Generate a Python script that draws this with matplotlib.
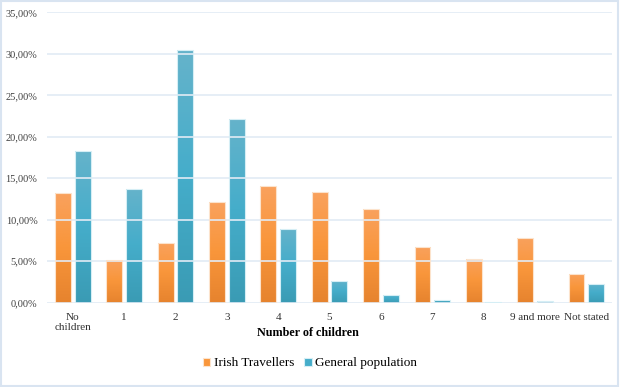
import matplotlib.pyplot as plt
import numpy as np
from matplotlib.colors import LinearSegmentedColormap
from matplotlib.ticker import FuncFormatter

categories = ["No\nchildren", "1", "2", "3", "4", "5", "6", "7", "8", "9 and more", "Not stated"]
travellers = [13.2, 5.15, 7.15, 12.15, 14.1, 13.4, 11.3, 6.7, 5.3, 7.75, 3.4]
general = [18.25, 13.7, 30.5, 22.2, 8.9, 2.6, 0.9, 0.35, 0.1, 0.2, 2.25]

plt.rcParams["font.family"] = "serif"
plt.rcParams["font.serif"] = ["Liberation Serif", "DejaVu Serif"]

fig = plt.figure(figsize=(6.2, 3.87), dpi=100)
ax = fig.add_axes([0.076, 0.218, 0.911, 0.750])

x = np.arange(len(categories))
w = 0.31
off = 0.19

orange_cmap = LinearSegmentedColormap.from_list("o", ["#E6832E", "#F9963B", "#F9A25F"])
blue_cmap = LinearSegmentedColormap.from_list("b", ["#3A9BB4", "#45ADCA", "#66B3CB"])

b1 = ax.bar(x - off, travellers, w, color="#F9963B", edgecolor="#FCE3CC", linewidth=0.8,
            label="Irish Travellers", zorder=2)
b2 = ax.bar(x + off, general, w, color="#45ADCA", edgecolor="#D5EEF5", linewidth=0.8,
            label="General population", zorder=2)

# gradient fill for each bar, clipped to the bar itself
grad = np.linspace(0, 1, 256).reshape(-1, 1)
for bars, cmap in [(b1, orange_cmap), (b2, blue_cmap)]:
    for r in bars:
        x0, y0 = r.get_x(), r.get_y()
        im = ax.imshow(grad, cmap=cmap, origin="lower", aspect="auto", interpolation="bilinear",
                       extent=[x0 - 0.05, x0 + r.get_width() + 0.05, y0, y0 + r.get_height() + 0.3],
                       zorder=1.5)
        im.set_clip_path(r)
        r.set_facecolor("none")
        r.set_zorder(3)

ax.set_xlim(-0.5, len(categories) - 0.5)
ax.set_ylim(0, 35)
ax.set_yticks(np.arange(0, 36, 5))
ax.yaxis.set_major_formatter(FuncFormatter(lambda v, p: f"{v:.2f}%".replace(".", ",")))
ax.set_xticks(x)
ax.set_xticklabels(categories, fontsize=8, color="#333333", linespacing=1.1)
ax.tick_params(axis="y", labelsize=7.5, colors="#404040", length=0, pad=7)
ax.tick_params(axis="x", length=0, pad=7.5)
ax.grid(axis="y", color="#E2EBF5", linewidth=1.2, zorder=0)
for s in ax.spines.values():
    s.set_visible(False)

ax.set_xlabel("Number of children", fontsize=8.7, fontweight="bold")
ax.xaxis.set_label_coords(0.461, -0.085)

leg = fig.legend(handles=[b1, b2], loc="center", bbox_to_anchor=(0.5, 0.061), ncol=2, frameon=False,
                 fontsize=9.5, handlelength=0.55, handleheight=0.55, handletextpad=0.25,
                 columnspacing=0.8)
for h, c in zip(leg.legend_handles, ["#F9963B", "#45ADCA"]):
    h.set_facecolor(c)

fig.patches.append(plt.Rectangle((0.002, 0.003), 0.995, 0.994, transform=fig.transFigure,
                                 fill=False, edgecolor="#D9E4F1", linewidth=1.5))

fig.savefig("out.png", dpi=100)
